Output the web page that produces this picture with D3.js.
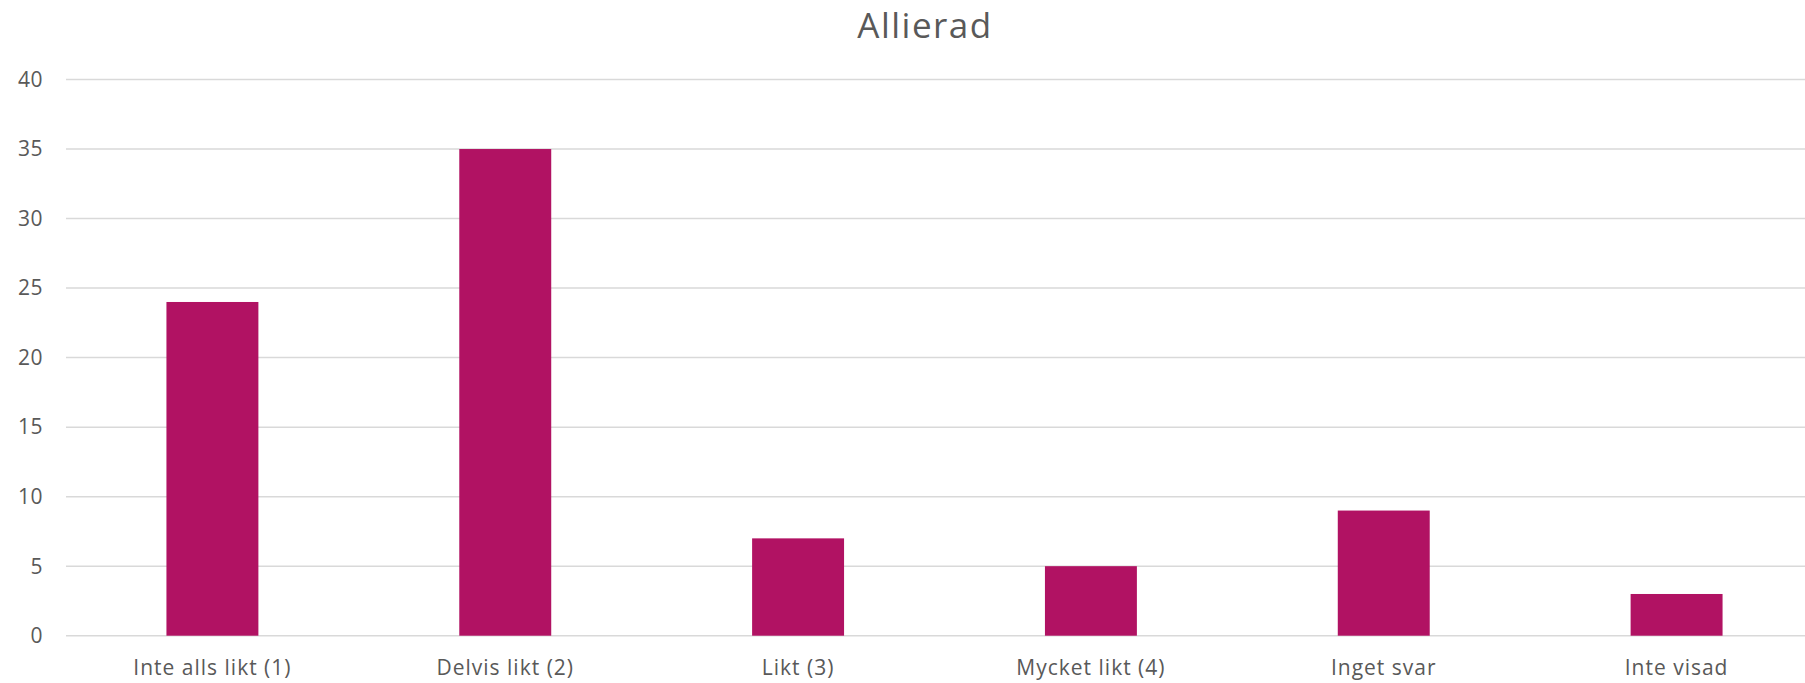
<!DOCTYPE html>
<html><head><meta charset="utf-8">
<script src="https://cdn.jsdelivr.net/npm/d3@7"></script>
<style>html,body{margin:0;padding:0;background:#fff;overflow:hidden}</style>
</head><body>
<script>
const title = "Allierad";
const categories = ["Inte alls likt (1)", "Delvis likt (2)", "Likt (3)", "Mycket likt (4)", "Inget svar", "Inte visad"];
const values = [24, 35, 7, 5, 9, 3];
const yTicks = [0, 5, 10, 15, 20, 25, 30, 35, 40];

const W = 1805, H = 683;
const font = "'Open Sans', sans-serif";
const svg = d3.select("body").append("svg").attr("width", W).attr("height", H);

const x = d3.scaleBand().domain(categories).range([66, 1823]).padding(0);
const y = d3.scaleLinear().domain([0, 40]).range([635.7, 79.5]);

svg.append("g").selectAll("line").data(yTicks).join("line")
  .attr("x1", 66).attr("x2", 1823)
  .attr("y1", d => y(d)).attr("y2", d => y(d))
  .attr("stroke", "#d9d9d9").attr("stroke-width", 1.5);

const barW = x.bandwidth() * 0.314;
svg.append("g").selectAll("rect").data(values).join("rect")
  .attr("x", (d, i) => x(categories[i]) + x.bandwidth() / 2 - barW / 2)
  .attr("y", d => y(d))
  .attr("width", barW)
  .attr("height", d => y(0) - y(d))
  .attr("fill", "#b11263");

svg.append("g").selectAll("text").data(yTicks).join("text")
  .attr("x", 43).attr("y", d => y(d))
  .attr("dy", "0.35em").attr("text-anchor", "end")
  .attr("font-family", font).attr("font-size", 21).attr("font-weight", 400).attr("fill", "#595959")
  .attr("letter-spacing", 0.5)
  .text(d => d);

svg.append("g").selectAll("text").data(categories).join("text")
  .attr("x", d => x(d) + x.bandwidth() / 2).attr("y", 668)
  .attr("dy", "0.35em").attr("text-anchor", "middle")
  .attr("font-family", font).attr("font-size", 21).attr("font-weight", 400).attr("fill", "#595959")
  .attr("letter-spacing", 1.0)
  .text(d => d);

svg.append("text").attr("x", 925).attr("y", 38)
  .attr("text-anchor", "middle")
  .attr("font-family", font).attr("font-size", 35).attr("font-weight", 400).attr("fill", "#595959")
  .attr("letter-spacing", 1.5)
  .text(title);
</script>
</body></html>
